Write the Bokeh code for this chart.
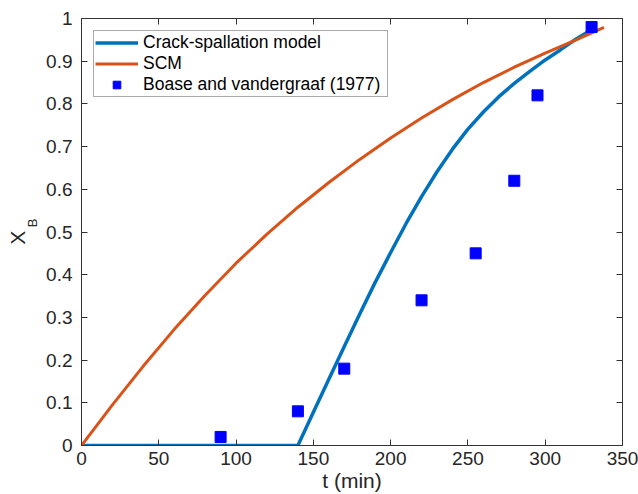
from bokeh.plotting import figure
from bokeh.models import Range1d, LinearAxis, FixedTicker, Legend, LegendItem
from bokeh.embed import file_html
from bokeh.resources import INLINE

# ---- data ----
t_crack = [0, 140, 150, 160, 170, 180, 190, 200, 210, 220, 230, 240, 250, 260, 270, 280, 290, 300, 310, 320, 333]
x_crack = [0, 0, 0.078, 0.155, 0.232, 0.308, 0.382, 0.452, 0.52, 0.583, 0.641, 0.694, 0.741, 0.781, 0.817,
           0.848, 0.876, 0.903, 0.927, 0.952, 0.98]

t_scm = [0, 20, 40, 60, 80, 100, 120, 140, 160, 180, 200, 220, 240, 260, 280, 300, 320, 338]
x_scm = [0, 0.095, 0.186, 0.272, 0.352, 0.427, 0.495, 0.558, 0.616, 0.67, 0.72, 0.767, 0.81, 0.85,
         0.886, 0.919, 0.95, 0.979]

t_data = [90, 140, 170, 220, 255, 280, 295, 330]
x_data = [0.02, 0.08, 0.18, 0.34, 0.45, 0.62, 0.82, 0.98]

series_names = ["Crack-spallation model", "SCM", "Boase and vandergraaf (1977)"]

x_ticks = [0, 50, 100, 150, 200, 250, 300, 350]
y_ticks = [0, 0.1, 0.2, 0.3, 0.4, 0.5, 0.6, 0.7, 0.8, 0.9, 1]
y_tick_labels = ["0", "0.1", "0.2", "0.3", "0.4", "0.5", "0.6", "0.7", "0.8", "0.9", "1"]

x_label = "t (min)"
y_label_main = "X"
y_label_sub = "B"

FONT = "Liberation Sans"
TXT = "#262626"
LINE = "#333333"
NBSP = "\u00a0"

p = figure(width=638, height=494, output_backend="svg", toolbar_location=None,
           x_range=Range1d(0, 350), y_range=Range1d(0, 1),
           min_border_left=81, min_border_right=16, min_border_top=18, min_border_bottom=48)
p.outline_line_color = None
p.grid.visible = False
p.background_fill_color = "white"
p.border_fill_color = "white"

p.add_layout(LinearAxis(), "above")
p.add_layout(LinearAxis(), "right")


def style(ax, ticks, show, standoff):
    ax.ticker = FixedTicker(ticks=ticks)
    ax.axis_line_color = LINE
    ax.axis_line_width = 1
    ax.major_tick_in = 6
    ax.major_tick_out = 0
    ax.major_tick_line_color = LINE
    ax.major_tick_line_width = 1
    ax.minor_tick_line_color = None
    ax.major_label_text_font = FONT
    ax.major_label_standoff = standoff
    if show:
        ax.major_label_text_font_size = "19px"
        ax.major_label_text_color = TXT
    else:
        ax.major_label_text_font_size = "0px"
        ax.major_label_text_color = None


style(p.below[0], x_ticks, True, 6)
style(p.above[0], x_ticks, False, 0)
style(p.left[0], y_ticks, True, 9)
style(p.right[0], y_ticks, False, 0)
p.left[0].major_label_overrides = dict(zip(y_ticks, y_tick_labels))

xa = p.below[0]
xa.axis_label = x_label
xa.axis_label_text_font = FONT
xa.axis_label_text_font_size = "21px"
xa.axis_label_text_font_style = "normal"
xa.axis_label_text_color = TXT
xa.axis_label_standoff = 1


def label_axis(text, size, standoff):
    ax = LinearAxis(ticker=FixedTicker(ticks=[]), axis_line_color=None,
                    major_tick_line_color=None, minor_tick_line_color=None,
                    major_tick_in=0, major_tick_out=0, minor_tick_in=0, minor_tick_out=0,
                    major_label_text_font_size="0px", major_label_text_color=None,
                    major_label_standoff=0,
                    axis_label=text, axis_label_text_font=FONT, axis_label_text_font_size=size,
                    axis_label_text_font_style="normal", axis_label_text_color=TXT,
                    axis_label_standoff=standoff)
    p.add_layout(ax, "left")


# subscript B sits a little above the centre, X a little below (non-breaking spaces pad the side)
label_axis(NBSP * 5 + y_label_sub, "13px", 4)
label_axis(y_label_main + NBSP * 2, "21px", -7)

r1 = p.line(t_crack, x_crack, line_color="#0072BD", line_width=3.5)
r2 = p.line(t_scm, x_scm, line_color="#D95319", line_width=3)
r3 = p.scatter(t_data, x_data, marker="square", size=11, fill_color="#0000FF", line_color="#0000FF")

legend = Legend(items=[LegendItem(label=series_names[0], renderers=[r1]),
                       LegendItem(label=series_names[1], renderers=[r2]),
                       LegendItem(label=series_names[2], renderers=[r3])],
                location="top_left", margin=12, padding=1, spacing=0,
                glyph_width=43, glyph_height=19, label_height=19, label_width=243, label_standoff=5,
                label_text_font=FONT, label_text_font_size="17.5px", label_text_color="black",
                border_line_color="#555555", border_line_width=1, background_fill_color="white",
                background_fill_alpha=1)
p.add_layout(legend)

open("out.html", "w").write(file_html(p, INLINE))
